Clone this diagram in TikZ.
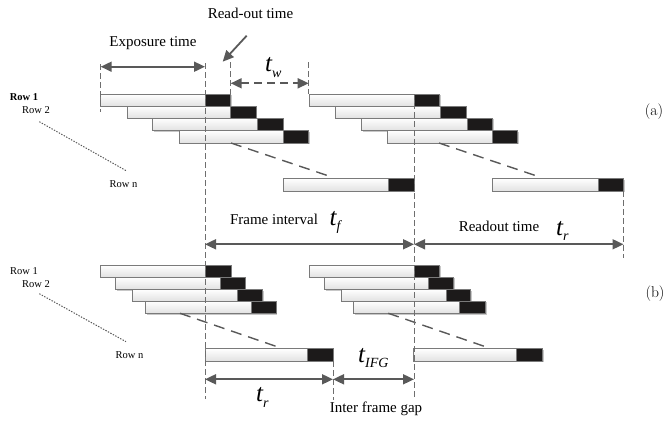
\documentclass[tikz,border=0pt]{standalone}
\usepackage{fontspec}
\newfontfamily\tnr{Liberation Serif}
\usetikzlibrary{arrows.meta,shadows}

\definecolor{linegray}{HTML}{595959}
\definecolor{edgegray}{HTML}{7A7A7A}
\definecolor{barlow}{HTML}{E2E2E2}
\definecolor{readfill}{HTML}{1C1A1A}
\definecolor{guidegray}{HTML}{6E6E6E}

% one sensor row: exposure part (light) followed by its read-out slot (dark)
% #1 name, #2 start x, #3 read-out start x, #4 end x, #5 top y, #6 bottom y
\newcommand\sensorrow[6]{%
  \node[litebar, minimum width={#3-#2}, minimum height={#6-#5}] (#1l) at (#2,#5) {};
  \node[darkbar, minimum width={#4-#3}, minimum height={#6-#5}] (#1d) at (#3,#5) {};}

% italic time symbol with subscript
\newcommand\tvar[1]{{\fontsize{25}{25}\selectfont\itshape t}\raisebox{-5.5pt}{\fontsize{14}{14}\selectfont\itshape #1}}

\tikzset{
  barbase/.style={anchor=north west, inner sep=0pt, outer sep=0pt, line width=0.6pt,
    drop shadow={shadow xshift=1.2pt, shadow yshift=-1.4pt, fill=black, opacity=0.22}},
  litebar/.style={barbase, draw=edgegray, top color=white, bottom color=barlow},
  darkbar/.style={barbase, draw=edgegray, fill=readfill},
  lbl/.style={font=\tnr\fontsize{15}{18}\selectfont, inner sep=0pt},
  rowlbl/.style={font=\tnr\fontsize{10.5}{12}\selectfont, inner sep=0pt},
  partlbl/.style={font=\fontsize{15.6}{18}\selectfont, inner sep=0pt},
  tlbl/.style={font=\tnr, inner sep=0pt, anchor=base west},
  span/.style={draw=linegray, line width=1.8pt, {Triangle[length=11pt,width=10pt]}-{Triangle[length=11pt,width=10pt]}},
  guide/.style={draw=guidegray, line width=0.8pt, dash pattern=on 6pt off 3pt},
  rowlink/.style={draw=linegray, line width=1.4pt, dash pattern=on 11pt off 7pt},
  rowdots/.style={draw=linegray, line width=1pt, dash pattern=on 1.4pt off 1.4pt},
}

\begin{document}
\begin{tikzpicture}[x=1pt,y=-1pt]
\useasboundingbox (0,0) rectangle (666,423);

% ---------------- (a) ----------------
\sensorrow{aa1}{100.7}{205}{230.7}{94}{106}
\sensorrow{aa2}{127}{230.7}{256}{106}{118}
\sensorrow{aa3}{152.3}{257.5}{283}{118}{130.5}
\sensorrow{aa4}{179.3}{283.5}{308.7}{130.5}{143}
\sensorrow{aan}{283.3}{388}{414}{178.3}{191}

\sensorrow{ab1}{309}{414}{439.7}{94}{106}
\sensorrow{ab2}{335.7}{440}{466}{106}{118}
\sensorrow{ab3}{361.3}{467}{492.3}{118}{130.5}
\sensorrow{ab4}{387.3}{492.3}{517.3}{130.5}{143}
\sensorrow{abn}{492.3}{598}{623.7}{178.3}{191}

% ---------------- (b) ----------------
\sensorrow{ba1}{100.7}{205}{231}{265}{277}
\sensorrow{ba2}{115.7}{220}{245}{277}{289.3}
\sensorrow{ba3}{132.7}{237.3}{262.3}{289.3}{301}
\sensorrow{ba4}{145.7}{251}{276}{301}{313.3}
\sensorrow{ban}{205}{307}{333}{348.5}{361}

\sensorrow{bb1}{309}{414}{439.7}{265}{277}
\sensorrow{bb2}{324.5}{428.7}{453.7}{277}{289.3}
\sensorrow{bb3}{341.3}{446.3}{470.7}{289.3}{301}
\sensorrow{bb4}{353.7}{459.7}{485.3}{301}{313.3}
\sensorrow{bbn}{413.7}{516.3}{542.3}{348.5}{361}

% reference points for guides and spans
\coordinate (g1t) at (100.7,64);  \coordinate (g1b) at (100.7,112);
\coordinate (g2t) at (205,63);    \coordinate (g2b) at (205,399);
\coordinate (g3t) at (230.7,62);  \coordinate (g3b) at (230.7,94);
\coordinate (g4t) at (308.7,62);  \coordinate (g4b) at (308.7,94);
\coordinate (g5t) at (414,94);    \coordinate (g5b) at (414,398);
\coordinate (g6t) at (623.5,191); \coordinate (g6b) at (623.5,258);
\coordinate (g7t) at (333,361);   \coordinate (g7b) at (333,400);

\coordinate (expL) at (100.7,66.7); \coordinate (expR) at (205,66.7);
\coordinate (twL) at (230.7,83.3);  \coordinate (twR) at (308.7,83.3);
\coordinate (fiL) at (205,244.3);   \coordinate (fiR) at (414,244.3);
\coordinate (roR) at (623.5,244.3);
\coordinate (trL) at (205,379.3);   \coordinate (trR) at (333,379.3);
\coordinate (igR) at (414,379.3);
\coordinate (roS) at (246.7,35.7);  \coordinate (roE) at (222.7,61.7);

% links from the last drawn row down to row n
\coordinate (la1) at (231,143);   \coordinate (la2) at (333.3,177.5);
\coordinate (lb1) at (439,143);   \coordinate (lb2) at (541.3,177.5);
\coordinate (lc1) at (180,313.3); \coordinate (lc2) at (280,347.7);
\coordinate (ld1) at (388.3,313.3); \coordinate (ld2) at (488.3,347.7);
\draw[rowlink] (la1) -- (la2);
\draw[rowlink] (lb1) -- (lb2);
\draw[rowlink] (lc1) -- (lc2);
\draw[rowlink] (ld1) -- (ld2);

% vertical timing guides
\draw[guide] (g1t) -- (g1b);
\draw[guide] (g2t) -- (g2b);
\draw[guide] (g3t) -- (g3b);
\draw[guide] (g4t) -- (g4b);
\draw[guide] (g5t) -- (g5b);
\draw[guide] (g6t) -- (g6b);
\draw[guide] (g7t) -- (g7b);

% spans
\draw[span] (expL) -- (expR);
\draw[span, dash pattern=on 8pt off 5pt] (twL) -- (twR);
\draw[span] (fiL) -- (fiR);
\draw[span] (fiR) -- (roR);
\draw[span] (trL) -- (trR);
\draw[span] (trR) -- (igR);
\draw[draw=linegray, line width=1.8pt, -{Triangle[length=11pt,width=10pt]}] (roS) -- (roE);

% labels
\node[lbl] (readlbl) at (250.5,13) {Read-out time};
\node[lbl] (explbl) at (153,43.5) {Exposure time};
\node[lbl] (filbl) at (274,219.5) {Frame interval};
\node[lbl] (rtlbl) at (499,226) {Readout time};
\node[lbl] (ifglbl) at (376,409.3) {Inter frame gap};

\node[tlbl] (tw) at (265,71.7) {\tvar{w}};
\node[tlbl] (tf) at (329.5,225) {\tvar{f}};
\node[tlbl] (tra) at (556,235) {\tvar{r}};
\node[tlbl] (trb) at (256,401.7) {\tvar{r}};
\node[tlbl] (tifg) at (358,362) {\tvar{IFG}};

% row captions
\node[rowlbl, font=\tnr\bfseries\fontsize{10.5}{12}\selectfont] (ar1) at (24,97.3) {Row 1};
\node[rowlbl] (ar2) at (36,110) {Row 2};
\node[rowlbl] (arn) at (123.5,184.3) {Row n};
\coordinate (ad1) at (39.3,121.7); \coordinate (ad2) at (126.7,171);
\draw[rowdots] (ad1) -- (ad2);

\node[rowlbl] (br1) at (24,271) {Row 1};
\node[rowlbl] (br2) at (36,284.3) {Row 2};
\node[rowlbl] (brn) at (129.5,355) {Row n};
\coordinate (bd1) at (39.3,293.7); \coordinate (bd2) at (126,341.7);
\draw[rowdots] (bd1) -- (bd2);

\node[partlbl] (pa) at (654,111.5) {(a)};
\node[partlbl] (pb) at (655,293.5) {(b)};
\end{tikzpicture}
\end{document}
